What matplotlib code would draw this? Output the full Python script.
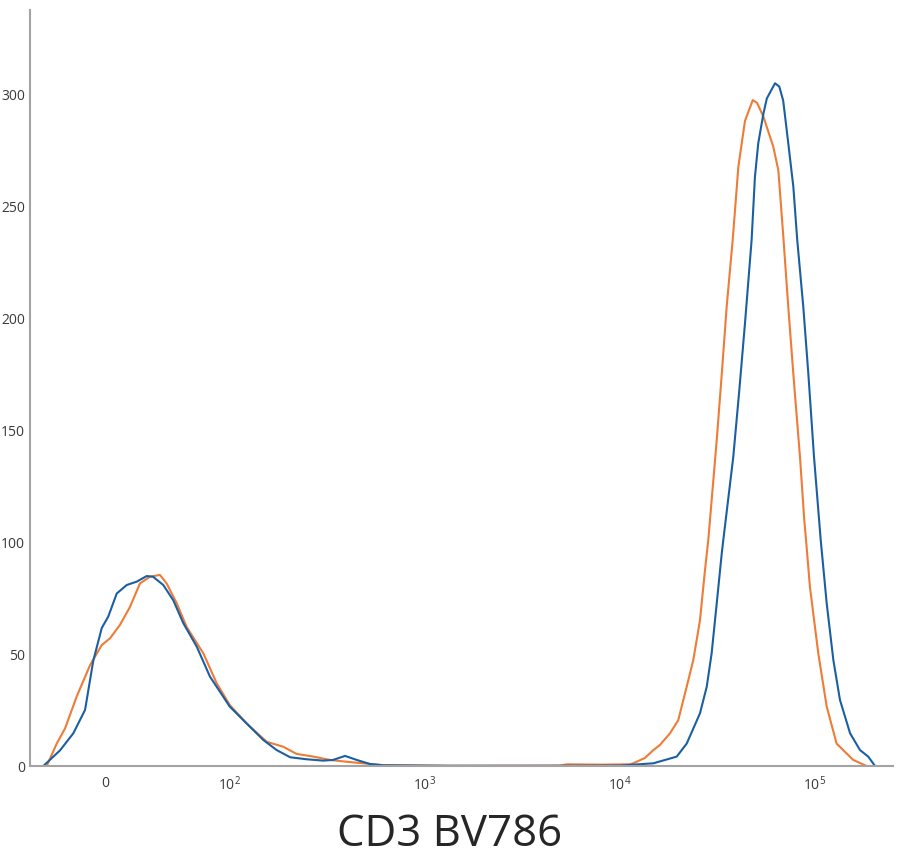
import matplotlib
matplotlib.use("Agg")
import matplotlib.pyplot as plt

plt.rcParams['font.family'] = ['Open Sans', 'DejaVu Sans']
plt.rcParams['mathtext.fontset'] = 'custom'
plt.rcParams['mathtext.rm'] = 'Open Sans'
plt.rcParams['mathtext.it'] = 'Open Sans:italic'
plt.rcParams['mathtext.bf'] = 'Open Sans:bold'

# Blue histogram (fluorescence value, count)
blue_x = [-49.4, -36, -25.4, -16, -9.4, -2.6, 2.6, 9.4, 17.4, 25.4, 33.4, 38.5, 46.7,
          54.7, 62.8, 73.5, 84.1, 100, 122, 148.6, 174, 204, 248, 301, 338, 390, 448,
          523, 611, 1346, 4385, 10020, 14860, 19590, 22030, 25770, 27920, 29580, 31410,
          33340, 33960, 38190, 41020, 43850, 47420, 49320, 51290, 54450, 56750, 62520,
          65770, 68870, 73110, 77620, 81280, 87300, 92680, 99080, 107200, 115100,
          124500, 134600, 151700, 170600, 187900, 203700]
blue_y = [0, 7, 14.6, 25, 47, 61.6, 66.7, 77, 80.8, 82.3, 84.8, 84.5, 80.8,
          74, 63.7, 53.3, 39.9, 26.5, 19, 11.6, 7.1, 3.9, 3.0, 2.4, 2.7, 4.5, 2.7,
          0.9, 0.3, 0.1, 0.1, 0.2, 1.2, 4.2, 10, 23.5, 35.4, 50.3, 72.6,
          95, 101, 138, 167.9, 197.6, 234.8, 263, 278, 291, 298, 304.8,
          303.3, 297, 278, 258.6, 234.8, 205, 175, 138, 101, 72.6,
          47.3, 29.5, 14.6, 7.1, 4.2, 0]

# Orange histogram (fluorescence value, count)
orange_x = [-46.7, -38.7, -32, -22.7, -12, -2.6, 4, 12, 20, 28, 36, 44, 49.4, 57.5,
            65.5, 78.8, 89.5, 100, 122, 154.6, 188, 220, 268, 326, 397, 482, 611,
            1346, 4932, 5360, 7910, 11270, 11720, 13460, 14860, 16070, 18090, 19950,
            22030, 23820, 25770, 27350, 28440, 31410, 33340, 35320, 37930, 40550,
            43850, 48080, 50580, 54450, 61240, 65010, 68870, 73110, 77620, 83950,
            88310, 90160, 94400, 104200, 115100, 129400, 157400, 184500]
orange_y = [0, 10, 16.8, 31, 45, 54, 57, 63, 71, 81.5, 84.5, 85.3, 81.5, 72.6,
            62, 50.3, 36.9, 27.2, 19, 10.8, 8.6, 5.4, 4.2, 2.7, 1.9, 1.2, 0.4,
            0.1, 0.2, 0.75, 0.6, 0.75, 1.2, 3.6, 7.1, 9.4, 14.6, 20.5,
            35.4, 47.3, 65, 87.5, 101, 145.5, 175, 205, 234.8, 267.5,
            288, 297.3, 296, 290, 276.5, 266, 237, 205, 175, 138,
            109.8, 101, 80, 50.3, 26.5, 10, 2.7, 0]

x_ticks = [0, 100, 1000, 10000, 100000]
x_tick_labels = ['0', r'$\mathregular{10^{2}}$', r'$\mathregular{10^{3}}$',
                 r'$\mathregular{10^{4}}$', r'$\mathregular{10^{5}}$']
y_ticks = [0, 50, 100, 150, 200, 250, 300]
x_label = 'CD3 BV786'

W, H = 902, 868
fig = plt.figure(figsize=(W / 100, H / 100), dpi=100)
ax = fig.add_axes([30 / W, (H - 766) / H, (893 - 30) / W, (766 - 10) / H])

ax.plot(orange_x, orange_y, color='#EE7B36', lw=1.5, solid_joinstyle='round')
ax.plot(blue_x, blue_y, color='#1B5FA3', lw=1.5, solid_joinstyle='round')

ax.set_xscale('symlog', linthresh=100, linscale=0.576, base=10)
ax.set_xlim(-60.1, 251800)
ax.set_ylim(0, 337.5)

ax.set_xticks(x_ticks)
ax.set_xticklabels(x_tick_labels)
ax.xaxis.set_minor_locator(matplotlib.ticker.NullLocator())
ax.set_yticks(y_ticks)
ax.set_yticklabels([str(v) for v in y_ticks])

ax.tick_params(axis='both', length=0, labelsize=10, colors='#3a3a3a')
ax.tick_params(axis='x', pad=7)
ax.tick_params(axis='y', pad=3.5)

for s in ['top', 'right']:
    ax.spines[s].set_visible(False)
for s in ['left', 'bottom']:
    ax.spines[s].set_color('#A3A3A3')
    ax.spines[s].set_linewidth(1.5)

fig.text(450 / W, 1 - 835 / H, x_label, ha='center', va='center',
         fontsize=31.5, color='#262626')

fig.savefig('out.png', dpi=100, facecolor='white')
